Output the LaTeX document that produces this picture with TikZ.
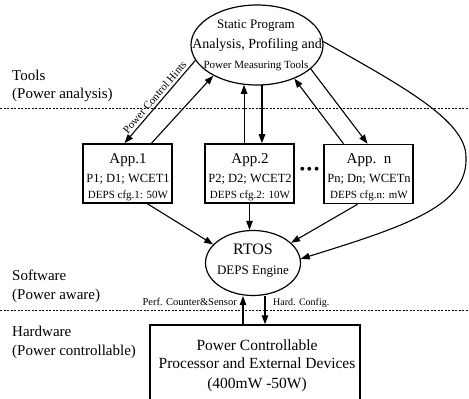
\documentclass[tikz,border=0pt]{standalone}
\usepackage{fontspec}
\setmainfont{Liberation Serif}
\usetikzlibrary{arrows.meta,shapes.geometric}
\begin{document}
\begin{tikzpicture}[x=1pt,y=-1pt,
  fs/.style={font=\fontsize{#1}{#1}\selectfont},
  arr/.style={line width=1.1pt,-{Triangle[length=9pt,width=6.5pt]}},
  rarr/.style={line width=1.1pt,{Triangle[length=9pt,width=6.5pt]}-},
  sep/.style={line width=0.8pt, dash pattern=on 2pt off 1.5pt},
  appbox/.style={draw, line width=1.6pt, minimum width=89pt, minimum height=59pt, inner sep=0pt},
  oval/.style={ellipse, draw, line width=1.2pt, inner sep=0pt},
  txt/.style={inner sep=0pt, anchor=base},
  lbl/.style={inner sep=0pt, anchor=base west, fs=15},
]
\useasboundingbox (0,0) rectangle (469,399);
% layer separators
\draw[sep] (0,108) -- (469,108);
\draw[sep] (0,310) -- (469,310);

% layer labels
\node[lbl] (l1) at (12,80) {Tools};
\node[lbl] (l2) at (12,98) {(Power analysis)};
\node[lbl] (l3) at (12,280) {Software};
\node[lbl] (l4) at (12,299) {(Power aware)};
\node[lbl] (l5) at (12,336) {Hardware};
\node[lbl] (l6) at (12,355) {(Power controllable)};

% tools ellipse
\node[oval, minimum width=132pt, minimum height=80pt] (tools) at (257,45) {};
\node[txt, fs=13] (t1) at (256,28) {Static Program};
\node[txt, fs=14] (t2) at (257,48) {Analysis, Profiling and};
\node[txt, fs=11] (t3) at (256,68) {Power Measuring Tools};

% applications
\node[appbox] (app1) at (127.5,173.5) {};
\node[txt, fs=15] (a1a) at (128,163) {App.1};
\node[txt, fs=12.5] (a1b) at (128,182) {P1; D1; WCET1};
\node[txt, fs=11] (a1c) at (128,198) {DEPS cfg.1: 50W};

\node[appbox] (app2) at (249.5,173.5) {};
\node[txt, fs=15] (a2a) at (250,163) {App.2};
\node[txt, fs=12.5] (a2b) at (250,182) {P2; D2; WCET2};
\node[txt, fs=11] (a2c) at (250,198) {DEPS cfg.2: 10W};

\node[appbox] (appn) at (368.5,174) {};
\node[txt, fs=15] (ana) at (369,163) {App.\ \ n};
\node[txt, fs=12.5] (anb) at (369,182) {Pn; Dn; WCETn};
\node[txt, fs=11] (anc) at (369,198) {DEPS cfg.n: mW};

\node[txt, fs=16] (dots) at (309.5,174) {•\hspace{1.5pt}•\hspace{1.5pt}•};

% RTOS
\node[oval, minimum width=95pt, minimum height=65pt] (rtos) at (253,263) {};
\node[txt, fs=16] (r1) at (253,254) {RTOS};
\node[txt, fs=13] (r2) at (253,274) {DEPS Engine};

% hardware
\node[draw, line width=1.5pt, minimum width=210pt, minimum height=90pt, inner sep=0pt] (hw) at (255,370) {};
\node[txt, fs=15.5] (h1) at (257,350) {Power Controllable};
\node[txt, fs=15.5] (h2) at (257,368) {Processor and External Devices};
\node[txt, fs=15.5] (h3) at (257,388) {(400mW -50W)};

% tools <-> apps
\draw[rarr] ([xshift=-3pt]app1.north) -- node[sloped, above, fs=11, inner sep=2.5pt] (hint) {Power Control Hints} (tools.194);
\draw[arr] ([xshift=24pt]app1.north) -- (tools.215);
\draw[arr] (app2.north -| tools.252.5) -- (tools.252.5);
\draw[arr] (tools.277.5) -- (app2.north -| tools.277.5);
\draw[arr] ([xshift=-25pt]appn.north) -- (tools.318);
\draw[arr] (tools.336.4) -- ([xshift=-1pt]appn.north);

% tools -> rtos (long curve)
\coordinate (bend) at (466,157);
\draw[arr] (tools.3) .. controls (400,85) and (466,120) .. (bend)
  .. controls (468,205) and (410,225) .. (rtos.5);

% apps -> rtos
\draw[arr] ([xshift=20pt]app1.south) -- (rtos.155);
\draw[arr] (app2.south) -- (app2.south |- rtos.north);
\draw[arr] ([xshift=-11pt]appn.south) -- (rtos.28);

% rtos <-> hardware
\draw[arr] ([xshift=-12pt]hw.north) -- ([xshift=-12pt]hw.north |- rtos.south);
\draw[arr] ([xshift=10pt]hw.north |- rtos.south) -- ([xshift=10pt]hw.north);
\node[txt, anchor=base east, fs=10.5] (perf) at (237,305) {Perf. Counter\&Sensor};
\node[txt, anchor=base west, fs=10] (hc) at (273,305) {Hard. Config.};
\end{tikzpicture}
\end{document}
